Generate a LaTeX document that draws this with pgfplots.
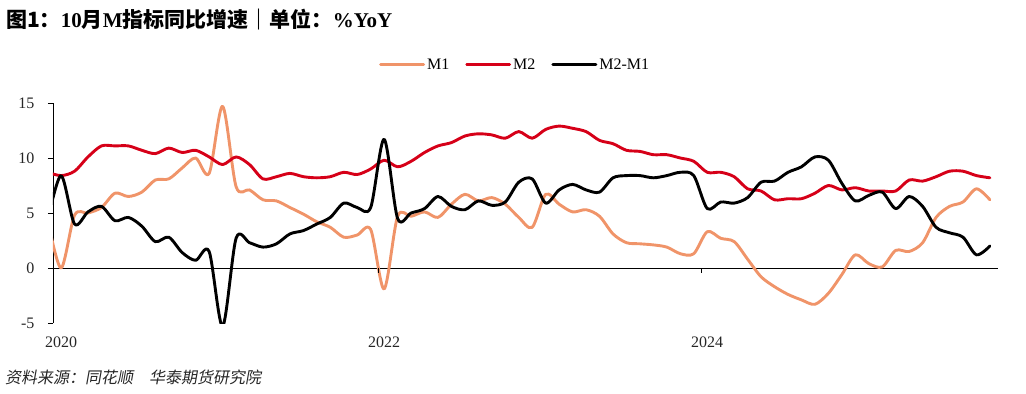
\documentclass[border=0pt]{standalone}
\usepackage{fontspec}
\setmainfont{Liberation Serif}
\newfontfamily\cjk{Noto Sans CJK SC}
\newfontfamily\cjkit[FakeSlant=0.18]{Noto Sans CJK SC}
\usepackage{pgfplots}
\pgfplotsset{compat=1.18}
\definecolor{mone}{RGB}{240,148,105}
\definecolor{mtwo}{RGB}{214,0,24}
\begin{document}
\begin{tikzpicture}
\useasboundingbox (0bp,0bp) rectangle (1026bp,-394bp);
\node[anchor=west, inner sep=0] at (6bp,-20bp) {\fontsize{21bp}{24bp}\selectfont\bfseries{\cjk 图1：}10{\cjk 月}M{\cjk 指标同比增速｜单位：}\%YoY};
\node[anchor=west, inner sep=0, text=black!85] at (5bp,-377bp) {\fontsize{16bp}{19bp}\selectfont\cjkit 资料来源：同花顺\hspace{1em}华泰期货研究院};
\begin{axis}[
  at={(53bp,-323bp)}, anchor=south west, scale only axis,
  width=945bp, height=220bp,
  xmin=-0.6, xmax=69.6, ymin=-5, ymax=15,
  axis y line*=left, axis x line*=bottom,
  x axis line style={draw=none},
  y axis line style={black, line width=0.8bp},
  xtick={0,24,48}, xticklabels={2020,2022,2024},
  xtick style={draw=none},
  ytick={-5,0,5,10,15}, yticklabels={-5,0,5,10,15},
  ytick align=outside, major tick length=5bp,
  ytick style={black, line width=0.8bp},
  tick label style={font=\fontsize{16bp}{19bp}\selectfont, text=black!85},
  yticklabel style={xshift=-10bp},
  xticklabel style={yshift=-10bp},
  extra y ticks={0}, extra y tick labels={},
  extra y tick style={grid=major, major grid style={black, line width=0.8bp}, ytick style={draw=none}},
  legend columns=3,
  legend style={at={(0.489,1.173)}, anchor=center, draw=none, fill=none,
    font=\fontsize{16bp}{19bp}\selectfont,
    /tikz/every even column/.append style={column sep=14bp}},
  legend image code/.code={\draw[#1] (0bp,0bp) -- (43bp,0bp);},
  every axis plot/.append style={line width=2.9bp, smooth, tension=0.5, line join=round, line cap=round},
]
\addplot[mone] coordinates {
(-1,4.4)
(0,0.0) (1,4.8) (2,5.0) (3,5.5) (4,6.8) (5,6.5) (6,6.9) (7,8.0) (8,8.1) (9,9.1) (10,10.0) (11,8.6)
(12,14.7) (13,7.4) (14,7.1) (15,6.2) (16,6.1) (17,5.5) (18,4.9) (19,4.2) (20,3.7) (21,2.8) (22,3.0) (23,3.5)
(24,-1.9) (25,4.7) (26,4.7) (27,5.1) (28,4.6) (29,5.8) (30,6.7) (31,6.1) (32,6.4) (33,5.8) (34,4.6) (35,3.7)
(36,6.7) (37,5.8) (38,5.1) (39,5.3) (40,4.7) (41,3.1) (42,2.3) (43,2.2) (44,2.1) (45,1.9) (46,1.3) (47,1.3)
(48,3.3) (49,2.7) (50,2.4) (51,0.8) (52,-0.8) (53,-1.7) (54,-2.4) (55,-2.9) (56,-3.3) (57,-2.3) (58,-0.6) (59,1.2)
(60,0.4) (61,0.1) (62,1.6) (63,1.5) (64,2.3) (65,4.6) (66,5.6) (67,6.0) (68,7.2) (69,6.2)
};
\addlegendentry{M1}
\addplot[mtwo] coordinates {
(-1,8.7)
(0,8.4) (1,8.8) (2,10.1) (3,11.1) (4,11.1) (5,11.1) (6,10.7) (7,10.4) (8,10.9) (9,10.5) (10,10.7) (11,10.1)
(12,9.4) (13,10.1) (14,9.4) (15,8.1) (16,8.3) (17,8.6) (18,8.3) (19,8.2) (20,8.3) (21,8.7) (22,8.5) (23,9.0)
(24,9.8) (25,9.2) (26,9.7) (27,10.5) (28,11.1) (29,11.4) (30,12.0) (31,12.2) (32,12.1) (33,11.8) (34,12.4) (35,11.8)
(36,12.6) (37,12.9) (38,12.7) (39,12.4) (40,11.6) (41,11.3) (42,10.7) (43,10.6) (44,10.3) (45,10.3) (46,10.0) (47,9.7)
(48,8.7) (49,8.7) (50,8.3) (51,7.2) (52,7.0) (53,6.2) (54,6.3) (55,6.3) (56,6.8) (57,7.5) (58,7.1) (59,7.3)
(60,7.0) (61,7.0) (62,7.0) (63,8.0) (64,7.9) (65,8.3) (66,8.8) (67,8.8) (68,8.4) (69,8.2)
};
\addlegendentry{M2}
\addplot[black] coordinates {
(-1,4.3)
(0,8.4) (1,4.0) (2,5.1) (3,5.6) (4,4.3) (5,4.6) (6,3.8) (7,2.4) (8,2.8) (9,1.4) (10,0.7) (11,1.5)
(12,-5.3) (13,2.7) (14,2.3) (15,1.9) (16,2.2) (17,3.1) (18,3.4) (19,4.0) (20,4.6) (21,5.9) (22,5.5) (23,5.5)
(24,11.7) (25,4.5) (26,5.0) (27,5.4) (28,6.5) (29,5.6) (30,5.3) (31,6.1) (32,5.7) (33,6.0) (34,7.8) (35,8.1)
(36,5.9) (37,7.1) (38,7.6) (39,7.1) (40,6.9) (41,8.2) (42,8.4) (43,8.4) (44,8.2) (45,8.4) (46,8.7) (47,8.4)
(48,5.4) (49,6.0) (50,5.9) (51,6.4) (52,7.8) (53,7.9) (54,8.7) (55,9.2) (56,10.1) (57,9.8) (58,7.7) (59,6.1)
(60,6.6) (61,6.9) (62,5.4) (63,6.5) (64,5.6) (65,3.7) (66,3.2) (67,2.8) (68,1.2) (69,2.0)
};
\addlegendentry{M2-M1}
\draw[black, line width=0.8bp] (axis cs:47.6,0) -- ++(0bp,-5bp);
\draw[black, line width=0.8bp] (axis cs:23.6,0) -- ++(0bp,-5bp);
\end{axis}
\end{tikzpicture}
\end{document}
